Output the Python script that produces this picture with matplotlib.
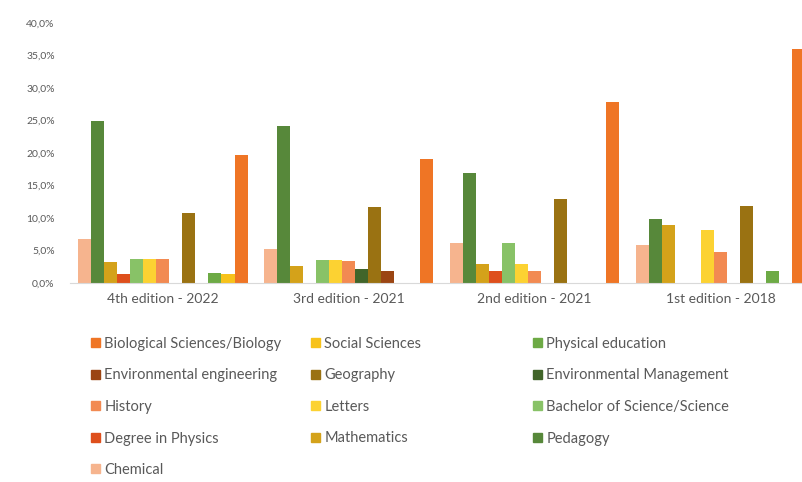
import matplotlib
matplotlib.use("Agg")
import matplotlib.pyplot as plt
from matplotlib.patches import Patch
from matplotlib.ticker import FuncFormatter
import numpy as np

plt.rcParams["font.family"] = ["Lato", "DejaVu Sans"]

# editions (x groups)
editions = ["4th edition - 2022", "3rd edition - 2021", "2nd edition - 2021", "1st edition - 2018"]

# series in legend order -> share of students per edition (%)
courses = [
    "Biological Sciences/Biology", "Social Sciences", "Physical education",
    "Environmental engineering", "Geography", "Environmental Management",
    "History", "Letters", "Bachelor of Science/Science",
    "Degree in Physics", "Mathematics", "Pedagogy",
    "Chemical",
]
colors = [
    "#EF7525", "#F7C21A", "#6DAA45",
    "#9B4513", "#9A7212", "#41652A",
    "#F28A52", "#FCD232", "#88C267",
    "#DE4F1C", "#D4A21A", "#57883A",
    "#F6B48E",
]
biology = [19.7, 19.1, 27.9, 36.0]
social = [1.4, 0.0, 0.0, 0.0]
physical_ed = [1.6, 0.0, 0.0, 1.8]
env_eng = [0.0, 1.9, 0.0, 0.0]
geography = [10.7, 11.7, 12.9, 11.8]
env_mgmt = [0.0, 2.1, 0.0, 0.0]
history = [3.7, 3.4, 1.9, 4.8]
letters = [3.7, 3.6, 2.9, 8.2]
bachelor = [3.7, 3.6, 6.1, 0.0]
physics = [1.4, 0.0, 1.9, 0.0]
mathematics = [3.3, 2.6, 3.0, 8.9]
pedagogy = [24.9, 24.1, 16.9, 9.8]
chemical = [6.7, 5.2, 6.1, 5.9]

values = [biology, social, physical_ed, env_eng, geography, env_mgmt,
          history, letters, bachelor, physics, mathematics, pedagogy, chemical]

fig = plt.figure(figsize=(8.02, 4.82), dpi=100)
ax = fig.add_axes([70 / 802, 1 - 283 / 482, 1 - 70 / 802, 260 / 482])

n = len(courses)
width = 0.91 / n
x = np.arange(len(editions))
# Excel draws the series in reverse legend order inside each group
for k, i in enumerate(reversed(range(n))):
    xs = x - 0.455 + (k + 0.5) * width
    ax.bar(xs, values[i], width, color=colors[i], linewidth=0)

ax.set_ylim(0, 40)
ax.set_xlim(-0.5, 3.438)
ax.set_yticks(np.arange(0, 41, 5))
ax.yaxis.set_major_formatter(FuncFormatter(lambda v, p: f"{v:.1f}%".replace(".", ",")))
ax.set_xticks(x)
ax.set_xticklabels(editions, fontsize=10, color="#595959")
ax.tick_params(axis="y", labelsize=7.5, labelcolor="#595959", length=0, pad=11)
ax.tick_params(axis="x", length=0, pad=7)
for s in ["top", "right", "left"]:
    ax.spines[s].set_visible(False)
ax.spines["bottom"].set_color("#D9D9D9")

# legend: three fixed columns, filled row by row
col_x = [91 / 802, 311 / 802, 533 / 802]
for c in range(3):
    idx = list(range(c, n, 3))
    handles = [Patch(color=colors[i]) for i in idx]
    fig.legend(handles, [courses[i] for i in idx], loc="upper left",
               bbox_to_anchor=(col_x[c], 1 - 337 / 482), frameon=False,
               fontsize=10.5, labelcolor="#595959", handlelength=0.6, handleheight=0.6,
               handletextpad=0.3, labelspacing=1.2, borderaxespad=0, borderpad=0)

fig.savefig("out.png", dpi=100)
